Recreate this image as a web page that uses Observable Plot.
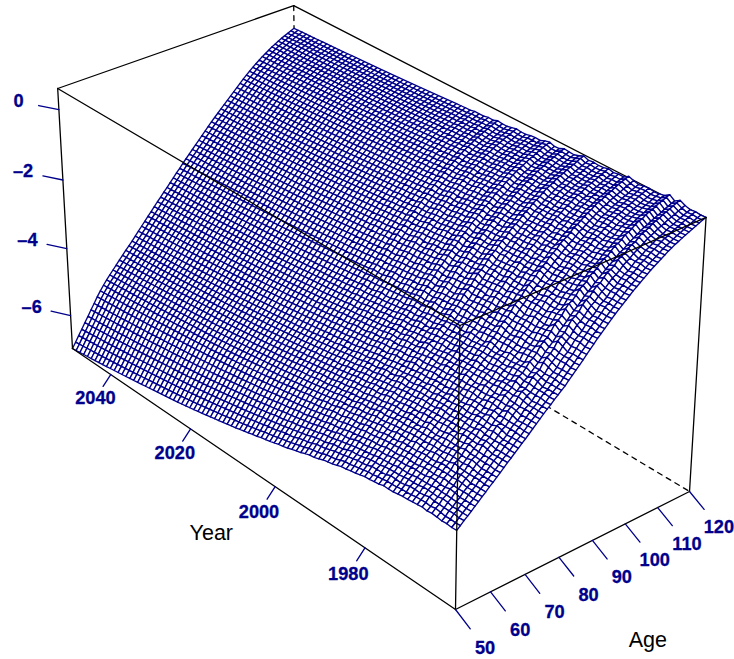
<!DOCTYPE html>
<html><head><meta charset="utf-8">
<style>html,body{margin:0;padding:0;background:#fff}svg{display:block}</style>
<script src="https://cdn.jsdelivr.net/npm/d3@7"></script>
<script src="https://cdn.jsdelivr.net/npm/@observablehq/plot@0.6"></script>
</head><body><script>
// Limits of the box (data units)
const ageLimits = [50, 120];
const yearLimits = [1961, 2050];
const zLimits = [-7, 0.59];
// Tick labels
const ageTicks = [50, 60, 70, 80, 90, 100, 110, 120];
const yearTicks = [1980, 2000, 2020, 2040];
const zTicks = [0, -2, -4, -6];
// Log mortality by age (50..120) read along the 1961 and the 2050 edges of the surface
const firstYearProfile = [-4.80,-4.72,-4.63,-4.55,-4.47,-4.38,-4.30,-4.21,-4.13,-4.04,
 -3.96,-3.87,-3.79,-3.70,-3.61,-3.53,-3.44,-3.36,-3.27,-3.19,
 -3.10,-3.01,-2.92,-2.83,-2.74,-2.66,-2.58,-2.49,-2.41,-2.33,
 -2.25,-2.15,-2.06,-1.96,-1.87,-1.77,-1.67,-1.57,-1.47,-1.37,
 -1.28,-1.19,-1.10,-1.01,-.92,-.84,-.76,-.68,-.60,-.52,
 -.45,-.38,-.31,-.24,-.17,-.11,-.05,.01,.07,.13,
 .18,.23,.27,.32,.36,.40,.44,.48,.52,.56,.59];
const lastYearProfile = [-7.00,-6.85,-6.69,-6.54,-6.38,-6.23,-6.07,-5.92,-5.76,-5.62,
 -5.49,-5.37,-5.26,-5.15,-5.04,-4.93,-4.83,-4.72,-4.62,-4.52,
 -4.41,-4.30,-4.19,-4.08,-3.97,-3.87,-3.76,-3.65,-3.55,-3.44,
 -3.34,-3.23,-3.13,-3.02,-2.92,-2.81,-2.71,-2.61,-2.51,-2.41,
 -2.31,-2.21,-2.11,-2.01,-1.91,-1.82,-1.73,-1.64,-1.55,-1.46,
 -1.37,-1.28,-1.19,-1.10,-1.01,-.93,-.85,-.77,-.70,-.63,
 -.56,-.50,-.44,-.38,-.33,-.28,-.23,-.19,-.15,-.11,-.07];
// Share of the 1961-2050 decline reached in each year, 1961..2050
const declineByYear = [.000,.004,.000,.003,.001,.004,.002,.006,.003,.005,
 .012,.020,.028,.037,.046,.051,.060,.068,.077,.086,
 .100,.115,.130,.146,.161,.176,.192,.209,.227,.245,
 .263,.281,.299,.317,.336,.355,.374,.392,.409,.425,
 .441,.457,.473,.489,.505,.520,.536,.552,.566,.580,
 .594,.608,.622,.636,.650,.663,.676,.689,.702,.714,
 .726,.738,.750,.761,.771,.781,.791,.801,.811,.821,
 .831,.841,.851,.861,.871,.881,.890,.899,.908,.917,
 .926,.935,.944,.952,.960,.968,.976,.984,.992,1.000];
// Ridges of single years, 1961..2050
const yearShock = [.00,-.01,.01,-.01,.03,.10,.01,.11,.02,-.01,
 -.02,.01,.00,-.02,.02,.07,-.01,.00,-.02,.02,
 -.01,-.01,.02,.01,.07,.02,-.01,.01,.04,-.01,
 -.01,.05,.03,-.01,.01,.01,-.01,.00,.03,.01,
 -.01,.00,.03,-.01,.01,-.01,.00,.01,-.01,.00,
 0,0,0,0,0,0,0,0,0,0, 0,0,0,0,0,0,0,0,0,0,
 0,0,0,0,0,0,0,0,0,0, 0,0,0,0,0,0,0,0,0,0];
// How strongly those ridges show at each age, 50..120
const shockByAge = [.3,.3,.28,.25,.25,.22,.22,.25,.25,.28,
 .28,.3,.3,.3,.3,.3,.3,.3,.32,.32,
 .32,.35,.38,.4,.42,.45,.48,.5,.54,.58,
 .62,.66,.7,.74,.78,.82,.86,.9,.94,.97,
 1,1,1,1,1,1,1,1,1,1,
 1,1,1,1,1,1,1,1,1,1,
 1,1,1,1,1,1,1,1,1,1,1];
// Ripple across ages in the observed years
const ageRipple = [0,.01,-.02,.02,-.01,.03,-.02,.01,.03,-.03,
 .02,.03,-.02,-.03,.03,.02,-.03,.02,.04,-.03,
 -.02,.04,.02,-.04,.02,.04,-.03,-.02,.04,.01,
 -.04,.03,.03,-.03,-.02,.04,.02,-.04,.01,.04,
 -.02,-.03,.03,.03,-.03,.01,.03,-.03,.01,.03,
 -.02,-.02,.03,.01,-.03,.02,.01,-.02,.01,.02,
 -.01,-.01,.02,0,-.01,.01,0,-.01,0,0,0];
const rippleByYear = [0,.15,-.3,-.5,.4,.75,-.25,-.7,.5,.7,
 -.4,-.6,.45,.6,-.3,-.5,.45,.55,-.45,-.4,
 .5,.3,-.5,-.3,.45,.4,-.45,-.25,.4,.3,
 -.4,-.25,.3,.25,-.3,-.15,.25,.2,-.25,-.15,
 .15,.15,-.15,-.1,.1,.05,-.05,0,0,0,
 0,0,0,0,0,0,0,0,0,0, 0,0,0,0,0,0,0,0,0,0,
 0,0,0,0,0,0,0,0,0,0, 0,0,0,0,0,0,0,0,0,0];

// Perspective view of the box, as in persp(): homogeneous coefficients on box fractions u,v,w
const view = {
  x: [455, 273.5, -372.9, -19.9],
  y: [609, -89.9, -212.1, -301.2],
  d: [1, .0573, .1406, -.053]
};
const ink = "#00008b";
function project(age, year, z) {
  const u = (age - ageLimits[0]) / (ageLimits[1] - ageLimits[0]);
  const v = (year - yearLimits[0]) / (yearLimits[1] - yearLimits[0]);
  const w = (z - zLimits[0]) / (zLimits[1] - zLimits[0]);
  const f = c => c[0] + c[1]*u + c[2]*v + c[3]*w;
  const d = f(view.d);
  return [f(view.x)/d, f(view.y)/d];
}
const nAge = firstYearProfile.length, nYear = declineByYear.length;
function surface(i, j) {
  return firstYearProfile[i] + (lastYearProfile[i]-firstYearProfile[i])*declineByYear[j]
    + yearShock[j]*shockByAge[i] + ageRipple[i]*rippleByYear[j];
}
const facets = [];
let id = 0;
for (let i = nAge-2; i >= 0; i--) for (let j = nYear-2; j >= 0; j--) {
  for (const [a,b] of [[i,j],[i+1,j],[i+1,j+1],[i,j+1],[i,j]]) {
    const [x,y] = project(ageLimits[0]+a, yearLimits[0]+b, surface(a,b));
    facets.push({id, x, y});
  }
  id++;
}
const [a0,a1] = ageLimits, [y0,y1] = yearLimits, [z0,z1] = zLimits;
function seg(list){ // list of [[age,year,z],[age,year,z]]
  return list.flatMap((s,k)=>s.map(p=>{const [x,y]=project(...p);return {k,x,y};}));
}
const backEdges = seg([[[a1,y1,z1],[a1,y1,z0]],[[a1,y1,z0],[a1,y0,z0]],[[a1,y1,z0],[a0,y1,z0]]]);
const farTop = seg([[[a0,y1,z1],[a1,y1,z1]],[[a1,y1,z1],[a1,y0,z1]]]);
const frontEdges = seg([
 [[a0,y1,z1],[a0,y0,z1]],[[a0,y0,z1],[a1,y0,z1]],[[a0,y0,z1],[a0,y0,z0]],
 [[a0,y1,z1],[a0,y1,z0]],[[a1,y0,z1],[a1,y0,z0]],
 [[a0,y1,z0],[a0,y0,z0]],[[a0,y0,z0],[a1,y0,z0]]]);
const off = .034, yo = off*(y1-y0), zo = off*(z1-z0), ao = off*(a1-a0);
const ticks = seg([
  ...ageTicks.map(t=>[[t,y0,z0],[t,y0-yo,z0-zo]]),
  ...yearTicks.map(t=>[[a0,t,z0],[a0-ao,t,z0-zo]]),
  ...zTicks.map(t=>[[a0,y1,t],[a0-ao,y1+yo,t]])]);
const lab = (p,text)=>{const [x,y]=project(...p);return {x,y,text};};
const tickLabels = [
  ...ageTicks.map(t=>lab([t,y0-2*yo,z0-2*zo],String(t))),
  ...yearTicks.map(t=>lab([a0-2*ao,t,z0-2*zo],String(t))),
  ...zTicks.map(t=>lab([a0-2*ao,y1+2*yo,t],String(t).replace("-","\u2013")))];
const titles = [
  lab([(a0+a1)/2,y0-4.85*yo,z0-4.85*zo],"Age"),
  lab([a0-5*ao,(y0+y1)/2,z0-5*zo],"Year")];

const font = "'Liberation Sans', Arial, sans-serif";
const plot = Plot.plot({
  width:734,height:659,margin:0,
  x:{domain:[0,734],range:[0,734],axis:null},
  y:{domain:[0,659],range:[0,659],axis:null},
  style:{background:"#fff"},
  marks:[
    Plot.line(backEdges,{x:"x",y:"y",z:"k",stroke:"#000",strokeWidth:1.3,strokeDasharray:"5,5"}),
    Plot.line(farTop,{x:"x",y:"y",z:"k",stroke:"#000",strokeWidth:1.3}),
    Plot.line(facets,{x:"x",y:"y",z:"id",fill:"#fff",stroke:ink,strokeWidth:1.35,strokeLinejoin:"round"}),
    Plot.line(frontEdges,{x:"x",y:"y",z:"k",stroke:"#000",strokeWidth:1.3}),
    Plot.line(ticks,{x:"x",y:"y",z:"k",stroke:ink,strokeWidth:1.3}),
    Plot.text(tickLabels,{x:"x",y:"y",text:"text",fill:ink,stroke:ink,strokeWidth:.3,fontSize:18.2,fontWeight:"bold",fontFamily:font,lineAnchor:"middle"}),
    Plot.text(titles,{x:"x",y:"y",text:"text",fill:"#000",fontSize:21.5,fontFamily:font,lineAnchor:"middle"})
  ]
});
document.body.appendChild(plot);
</script></body></html>
